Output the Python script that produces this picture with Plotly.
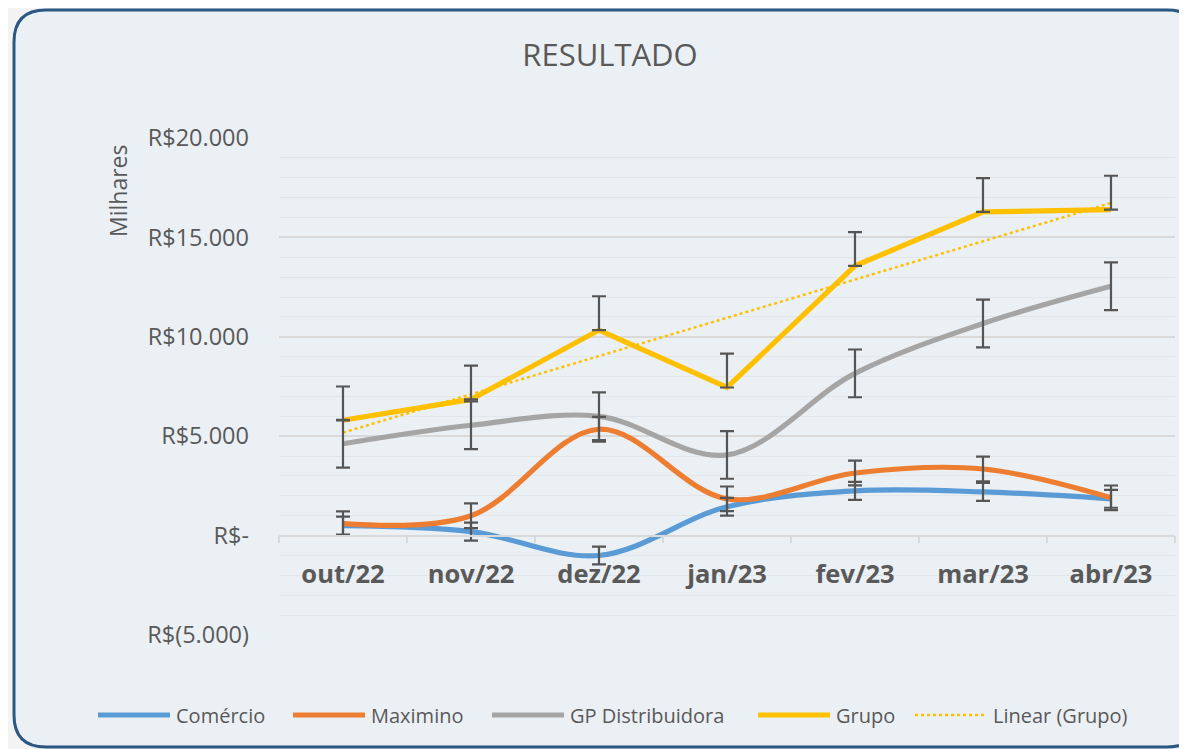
import numpy as np
import plotly.graph_objects as go

# ---------------- data (values in thousands of R$) ----------------
categories = ['out/22', 'nov/22', 'dez/22', 'jan/23', 'fev/23', 'mar/23', 'abr/23']
comercio = [0.5, 0.2, -1.0, 1.45, 2.25, 2.2, 1.85]
maximino = [0.6, 1.0, 5.35, 1.85, 3.15, 3.35, 1.9]
gp_distribuidora = [4.62, 5.55, 6.0, 4.06, 8.16, 10.67, 12.54]
grupo = [5.8, 6.85, 10.34, 7.45, 13.57, 16.28, 16.4]

err_comercio = [0.45] * 7
err_maximino = [0.62] * 7
err_gp = [1.2] * 7
err_grupo_plus = [1.7] * 7

y_tickvals = [-5, 0, 5, 10, 15, 20]
y_ticktext = ['R$(5.000)', 'R$-', 'R$5.000', 'R$10.000', 'R$15.000', 'R$20.000']

series_names = ['Comércio', 'Maximino', 'GP Distribuidora', 'Grupo', 'Linear (Grupo)']
colors = ['#5B9BD5', '#ED7D31', '#A5A5A5', '#FFC000', '#FFC000']

# linear trendline of Grupo
xi = np.arange(1, len(grupo) + 1)
slope, intercept = np.polyfit(xi, grupo, 1)
trend = list(slope * xi + intercept)

# ---------------- figure ----------------
OFF = 8  # page body margin
W, H = 1187 - OFF, 749 - OFF
L, T = 279 - OFF, 138 - OFF
R = W - (1175 - OFF)
B = H - (635 - OFF)
pw, ph = W - L - R, H - T - B

TXT = '#595959'
FONT = 'Open Sans'
LW = 5.2

fig = go.Figure()

smooth = [(comercio, 0), (maximino, 1), (gp_distribuidora, 2)]
for vals, i in smooth:
    fig.add_trace(go.Scatter(
        x=categories, y=vals, name=series_names[i], mode='lines',
        line=dict(color=colors[i], width=LW, shape='spline', smoothing=1.0),
    ))
fig.add_trace(go.Scatter(
    x=categories, y=grupo, name=series_names[3], mode='lines',
    line=dict(color=colors[3], width=LW),
))
fig.add_trace(go.Scatter(
    x=categories, y=trend, name=series_names[4], mode='lines',
    line=dict(color=colors[4], width=2.5, dash='dot'),
))

# error bars (drawn on top)
eb = dict(thickness=2.2, width=7, color='#555555')
invis = dict(size=1, color='rgba(0,0,0,0)')
for vals, err in [(comercio, err_comercio), (maximino, err_maximino), (gp_distribuidora, err_gp)]:
    fig.add_trace(go.Scatter(
        x=categories, y=vals, mode='markers', marker=invis, showlegend=False,
        hoverinfo='skip',
        error_y=dict(type='data', array=err, symmetric=True, **eb),
    ))
fig.add_trace(go.Scatter(
    x=categories, y=grupo, mode='markers', marker=invis, showlegend=False,
    hoverinfo='skip',
    error_y=dict(type='data', array=err_grupo_plus, arrayminus=[0] * 7, symmetric=False, **eb),
))


# window pixel -> paper conversion
def px(xw):
    return (xw - OFF - L) / pw


def py(yw):
    return (H - B - (yw - OFF)) / ph


# rounded chart-area border
x0, y0, x1, y1, r = 14, 10, 1199, 747, 32
path = (
    f"M {px(x0 + r)},{py(y0)} L {px(x1 - r)},{py(y0)} "
    f"Q {px(x1)},{py(y0)} {px(x1)},{py(y0 + r)} "
    f"L {px(x1)},{py(y1 - r)} Q {px(x1)},{py(y1)} {px(x1 - r)},{py(y1)} "
    f"L {px(x0 + r)},{py(y1)} Q {px(x0)},{py(y1)} {px(x0)},{py(y1 - r)} "
    f"L {px(x0)},{py(y0 + r)} Q {px(x0)},{py(y0)} {px(x0 + r)},{py(y0)} Z"
)
fig.add_shape(type='path', path=path, xref='paper', yref='paper', layer='below',
              fillcolor='#EBF0F5', line=dict(color='#2A5783', width=3))

# legend (drawn below the plot, Excel style: long line samples)
legend_x = [98, 293, 492, 758, 915]
legend_y = 715
legend_len = 72
annotations = []
for i, name in enumerate(series_names):
    lx = legend_x[i]
    fig.add_shape(type='line', xref='paper', yref='paper',
                  x0=px(lx), x1=px(lx + legend_len), y0=py(legend_y), y1=py(legend_y),
                  line=dict(color=colors[i], width=LW if i < 4 else 2.5,
                            dash='solid' if i < 4 else 'dot'))
    annotations.append(dict(text=name, x=px(lx + legend_len + 4), y=py(legend_y),
                            xref='paper', yref='paper', showarrow=False,
                            xanchor='left', yanchor='middle',
                            font=dict(size=20, color=TXT, family=FONT)))

annotations.append(dict(text='Milhares', textangle=-90, x=px(118), y=py(191), xref='paper', yref='paper',
                        showarrow=False, font=dict(size=23, color=TXT, family=FONT),
                        xanchor='center', yanchor='middle'))

fig.update_layout(
    width=W, height=H,
    margin=dict(l=L, r=R, t=T, b=B, pad=0, autoexpand=False),
    paper_bgcolor='#F3F3F3',
    plot_bgcolor='rgba(0,0,0,0)',
    font=dict(family=FONT, color=TXT),
    title=dict(text='RESULTADO', x=(610 - OFF) / W, xanchor='center', y=1 - (55 - OFF) / H,
               yanchor='middle', font=dict(size=31, color=TXT, family=FONT)),
    showlegend=False,
    xaxis=dict(
        type='category', range=[-0.5, 6.5], anchor='free', position=0.2,
        showline=True, linecolor='#D9D9D9', linewidth=1.5,
        ticks='outside', ticklen=7, tickcolor='#D9D9D9', tickwidth=1.5, tickson='boundaries',
        showgrid=False, zeroline=False,
        tickfont=dict(size=25.5, color=TXT, family=FONT, weight='bold'),
        ticklabelstandoff=16,
    ),
    yaxis=dict(
        range=[-5, 20], tickmode='array', tickvals=y_tickvals, ticktext=y_ticktext,
        showgrid=True, gridcolor='#D9D9D9', gridwidth=1.5, zeroline=False, showline=False,
        tickfont=dict(size=23.5, color=TXT, family=FONT), ticks='', ticklabelstandoff=29,
        minor=dict(tickmode='linear', tick0=0, dtick=1, showgrid=True, gridcolor='#E2E6EA', gridwidth=1),
    ),
    annotations=annotations,
)

fig.write_html('out.html')
